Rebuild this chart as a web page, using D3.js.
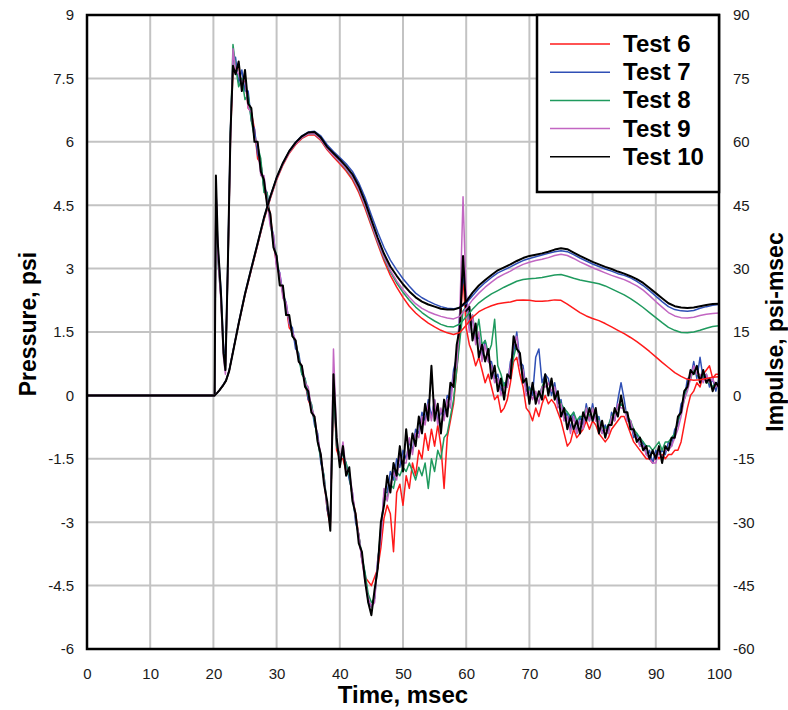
<!DOCTYPE html>
<html>
<head>
<meta charset="utf-8">
<script src="https://cdn.jsdelivr.net/npm/d3@7"></script>
<style>
  html, body { margin: 0; padding: 0; background: #fff; }
</style>
</head>
<body>
<div id="chart"></div>
<script>
// ---- data ----
const testNames = ["Test 6", "Test 7", "Test 8", "Test 9", "Test 10"];
const testColors = ["#ff1a1a", "#2f4fb5", "#1f9a5e", "#c266c2", "#000000"];

const xTicks = [0, 10, 20, 30, 40, 50, 60, 70, 80, 90, 100];
const pressureTicks = [-6, -4.5, -3, -1.5, 0, 1.5, 3, 4.5, 6, 7.5, 9];
const impulseTicks = [-60, -45, -30, -15, 0, 15, 30, 45, 60, 75, 90];

// time (msec) of pressure samples
const pressureTime = [0, 20.2, 20.4, 20.7, 21.2, 21.6, 21.9, 22.3, 22.7, 23.1,
  23.5,24,24.5,25,25.5,26,26.5,27,27.5,28, 28.5,29,29.5,30,30.5,31,31.5,32,32.5,33,
  33.5,34,34.5,35,35.5,36,36.5,37,37.5,38, 38.5,39,39.5,40,40.5,41,41.5,42,42.5,43,
  43.5,44,44.5,45,45.5,46,46.5,47,47.5,48, 48.5,49,49.5,50,50.5,51,51.5,52,52.5,53,
  53.5,54,54.5,55,55.5,56,56.5,57,57.5,58, 58.5,59,59.5,60,60.5,61,61.5,62,62.5,63,
  63.5,64,64.5,65,65.5,66,66.5,67,67.5,68, 68.5,69,69.5,70,70.5,71,71.5,72,72.5,73,
  73.5,74,74.5,75,75.5,76,76.5,77,77.5,78, 78.5,79,79.5,80,80.5,81,81.5,82,82.5,83,
  83.5,84,84.5,85,85.5,86,86.5,87,87.5,88, 88.5,89,89.5,90,90.5,91,91.5,92,92.5,93,
  93.5,94,94.5,95,95.5,96,96.5,97,97.5,98, 98.5,99,99.5,100];

// pressure, psi
const pressureTest6 = [0, 0, 4.8, 3.4, 2.3, 1.1, 0.7, 3.1, 6.1, 7.7,
  7.7,7.8,7.3,7.5,6.8,6.7,6.3,5.6,5.5,4.9, 4.6,4.3,3.6,3.1,2.8,2.4,2.1,1.6,1.5,1.2,
  0.9,0.6,0.3,-0.1,-0.3,-0.6,-1.0,-1.5,-2.0,-2.7, -3.1,0.2,-1.3,-1.5,-1.5,-1.8,-1.9,-2.4,-2.8,-3.3,
  -3.9,-4.3,-4.4,-4.5,-4.3,-4.1,-3.6,-2.9,-2.6,-2.8, -3.7,-2.3,-2.1,-2.6,-1.9,-2.2,-1.6,-1.9,-1.3,-1.5,
  -0.9,-1.3,-0.8,-1.2,-0.7,-1.2,-2.2,-1.0,-0.6,-0.2, 0.6,1.5,2.8,1.6,1.2,1.0,0.7,0.9,0.6,0.3,
  0.5,0.2,-0.1,0.0,-0.4,-0.3,-0.1,0.3,0.8,0.9, 0.5,0.2,-0.3,-0.4,-0.6,-0.3,-0.5,-0.2,0.0,-0.2,
  -0.1,-0.2,-0.4,-0.6,-0.9,-1.2,-1.1,-0.8,-1.0,-0.9, -0.8,-0.6,-0.8,-0.6,-0.7,-0.9,-1.0,-1.1,-1.0,-0.8,
  -0.7,-0.6,-0.5,-0.5,-0.7,-0.9,-1.1,-1.2,-1.3,-1.4, -1.5,-1.5,-1.6,-1.4,-1.5,-1.4,-1.5,-1.4,-1.4,-1.3,
  -1.3,-1.1,-0.7,-0.3,0.0,0.1,0.3,0.2,0.5,0.6, 0.7,0.4,0.5,0.5];
const pressureTest7 = [0, 0, 4.9, 3.5, 2.5, 1.2, 0.7, 3.3, 6.3, 7.9,
  8.0,7.4,7.7,7.2,7.2,6.5,6.3,5.7,5.5,4.9, 4.8,4.1,3.8,3.1,2.9,2.4,2.2,1.7,1.6,1.1,
  1.0,0.5,0.4,-0.1,-0.2,-0.7,-0.9,-1.6,-1.9,-2.7, -3.0,0.3,-1.2,-1.4,-1.4,-1.6,-2.0,-2.3,-3.0,-3.3,
  -3.9,-4.2,-4.9,-5.0,-4.8,-3.9,-3.3,-2.3,-2.3,-1.8, -2.0,-1.5,-1.7,-1.3,-1.5,-1.1,-1.3,-0.8,-0.9,-0.4,
  -0.6,-0.1,-0.5,-0.1,-0.6,-0.4,-0.5,0.0,-0.1,0.6, 0.9,2.0,2.8,2.4,1.7,1.8,1.3,1.4,0.9,1.3,
  0.8,0.8,0.4,0.5,0.1,0.3,0.2,0.8,1.0,1.5, 0.8,0.7,0.1,0.2,0.0,0.9,1.1,0.3,0.5,0.4,
  0.0,0.3,-0.2,-0.1,-0.6,-0.4,-0.8,-0.4,-0.9,-0.5, -0.7,-0.2,-0.6,-0.2,-0.6,-0.5,-0.9,-0.7,-0.9,-0.4,
  -0.6,-0.1,0.3,-0.1,-0.6,-0.6,-1.0,-0.9,-1.2,-1.1, -1.4,-1.3,-1.6,-1.3,-1.4,-1.3,-1.4,-1.1,-1.2,-0.8,
  -0.7,-0.2,-0.1,0.4,0.4,0.8,0.4,0.9,0.4,0.5, 0.2,0.4,0.1,0.4];
const pressureTest8 = [0, 0, 4.7, 3.2, 2.3, 1.0, 0.6, 3.0, 6.2, 8.3,
  7.8,7.3,7.5,7.0,7.1,6.5,6.1,5.9,5.6,4.8, 4.8,4.1,3.6,3.3,2.7,2.5,2.0,1.8,1.4,1.3,
  0.9,0.5,0.4,0.0,-0.2,-0.6,-1.1,-1.5,-1.9,-2.6, -3.0,0.3,-1.2,-1.4,-1.4,-1.6,-1.9,-2.4,-2.9,-3.3,
  -3.8,-4.2,-4.7,-4.9,-4.8,-4.0,-3.1,-2.5,-2.4,-2.1, -2.2,-1.8,-1.9,-1.7,-1.8,-1.6,-1.8,-2.0,-1.7,-1.9,
  -1.6,-2.2,-1.5,-1.8,-1.3,-1.5,-1.0,-0.9,-0.5,-0.1, 0.6,1.3,2.0,2.1,1.6,1.9,1.4,1.8,1.2,1.3,
  1.0,1.2,1.8,0.7,0.5,0.2,0.4,0.5,0.9,1.2, 0.8,0.4,0.3,0.1,0.2,-0.1,0.0,0.2,0.4,0.1,
  0.3,0.0,0.0,-0.2,-0.3,-0.4,-0.5,-0.4,-0.6,-0.5, -0.5,-0.3,-0.5,-0.3,-0.4,-0.6,-0.7,-0.8,-0.7,-0.5,
  -0.4,-0.3,-0.2,-0.3,-0.5,-0.6,-0.8,-0.9,-1.0,-1.1, -1.2,-1.2,-1.3,-1.2,-1.1,-1.3,-1.1,-1.1,-1.0,-0.9,
  -0.6,-0.4,-0.1,0.2,0.4,0.6,0.5,0.4,0.5,0.3, 0.3,0.2,0.3,0.2];
const pressureTest9 = [0, 0, 5.0, 3.3, 2.2, 0.9, 0.5, 3.0, 6.0, 8.2,
  7.7,7.6,7.4,7.5,6.8,6.7,6.1,5.9,5.2,5.2, 4.6,4.0,3.8,3.0,2.9,2.3,2.2,1.7,1.5,1.3,
  0.8,0.7,0.3,0.2,-0.3,-0.5,-1.0,-1.4,-2.0,-2.6, -3.0,1.1,-1.0,-1.6,-1.1,-1.8,-1.8,-2.3,-2.9,-3.3,
  -3.9,-4.4,-4.8,-5.0,-4.9,-3.9,-3.4,-2.2,-2.5,-2.1, -1.8,-2.0,-1.4,-1.6,-1.6,-1.0,-1.4,-0.9,-1.0,-0.5,
  -0.7,-0.2,-0.6,-0.1,-0.7,-0.3,-0.6,-0.1,-0.3,0.5, 0.7,2.0,4.7,2.3,1.5,1.9,1.2,1.5,0.8,1.2,
  0.8,0.7,0.3,0.4,0.0,0.2,0.2,0.7,1.2,1.4, 0.7,0.6,0.0,0.1,-0.1,0.1,-0.2,0.2,0.2,0.3,
  0.1,0.2,-0.3,-0.2,-0.6,-0.5,-0.9,-0.5,-0.9,-0.6, -0.8,-0.3,-0.6,-0.3,-0.6,-0.6,-0.9,-0.8,-0.9,-0.5,
  -0.6,-0.2,-0.3,-0.3,-0.6,-0.6,-0.9,-1.0,-1.2,-1.2, -1.4,-1.5,-1.6,-1.6,-1.3,-1.5,-1.3,-1.3,-1.2,-1.0,
  -0.8,-0.5,-0.1,0.1,0.4,0.7,0.5,0.5,0.3,0.5, 0.3,0.4,0.2,0.3];
const pressureTest10 = [0, 0, 5.2, 3.6, 2.4, 1.0, 0.6, 3.2, 6.2, 7.8,
  7.6,7.9,7.2,7.7,6.9,6.8,6.0,6.0,5.3,5.1, 4.5,4.3,3.5,3.3,2.6,2.6,1.9,1.9,1.4,1.3,
  0.8,0.7,0.2,0.1,-0.4,-0.5,-1.1,-1.4,-2.1,-2.5, -3.2,0.5,-1.0,-1.7,-1.2,-1.9,-1.7,-2.5,-2.8,-3.5,
  -3.7,-4.4,-4.9,-5.2,-4.6,-4.1,-3.0,-2.6,-1.9,-2.3, -1.6,-1.9,-1.2,-1.8,-0.8,-1.5,-0.9,-1.2,-0.5,-0.9,
  -0.2,-0.6,0.7,-0.6,-0.2,-0.9,-0.1,-0.5,0.3,0.2, 1.2,1.6,3.3,2.0,2.1,1.3,1.7,0.9,1.2,0.8,
  1.1,0.4,0.7,0.1,0.4,-0.1,0.5,0.4,1.4,1.1, 1.0,0.3,0.4,-0.2,0.3,-0.2,0.1,-0.1,0.5,0.0,
  0.4,-0.1,0.1,-0.5,-0.3,-0.8,-0.5,-0.8,-0.6,-0.9, -0.4,-0.6,-0.3,-0.6,-0.3,-0.9,-0.6,-1.0,-0.7,-0.7,
  -0.3,-0.5,0.0,-0.4,-0.4,-0.8,-0.8,-1.1,-1.0,-1.3, -1.2,-1.5,-1.3,-1.5,-1.2,-1.6,-1.2,-1.3,-1.0,-1.0,
  -0.5,-0.4,0.1,0.2,0.6,0.5,0.7,0.3,0.6,0.3, 0.4,0.1,0.3,0.2];

// time (msec) of impulse samples
const impulseTime = [0, 20.2, 20.6, 21, 21.5, 22, 22.5, 23,
  24,25,26,27,28,29,30,31,32,33,34,35,36,37,38,39,40,41,42,43,44,45,46,47,48,49,50,
  51,52,53,54,55,56,57,58,59,60,61,62,63,64,65,66,67,68,69,70,71,72,73,74,75,76,77,
  78,79,80,81,82,83,84,85,86,87,88,89,90,91,92,93,94,95,96,97,98,99,100];

// impulse, psi-msec
const impulseTest6 = [0, 0, 0.6, 1.3, 2.3, 3.5, 5.8, 9.6,
  16.9,23.8,29.7,35.6,41.5,46.5,51.0,54.5,57.3,59.3,60.8,61.6,61.6,60.3,58.1,56.4,54.8,
  53.1,51.0,48.0,44.2,40.0,35.8,31.8,28.4,25.6,23.2,21.1,19.5,18.2,17.1,16.2,15.4,14.8,
  14.4,14.9,16.6,18.5,19.8,20.6,21.2,21.7,21.9,22.1,22.5,22.6,22.5,22.3,22.3,22.4,22.6,
  22.5,21.6,20.6,19.6,18.8,18.2,17.7,17.0,16.2,15.4,14.6,13.7,12.7,11.6,10.4,9.1,7.8,
  6.6,5.4,4.5,3.8,3.6,3.7,4.0,4.3,4.4];
const impulseTest7 = [0, 0, 0.6, 1.3, 2.4, 3.6, 6.0, 9.7,
  17.2,24.2,30.2,36.1,42.1,47.1,51.5,55.0,57.8,59.9,61.4,62.3,62.5,61.4,59.3,57.7,56.3,
  54.8,53.0,50.3,46.8,42.6,38.6,35.0,32.0,29.7,27.6,25.8,24.2,23.1,22.3,21.6,21.0,20.6,
  20.5,20.7,21.8,23.6,25.3,26.7,27.9,29.0,29.7,30.4,31.2,31.9,32.4,32.8,33.2,33.6,34.0,
  34.2,34.0,33.3,32.5,31.8,31.1,30.5,29.9,29.4,28.8,28.4,27.8,27.0,26.0,24.8,23.5,22.2,
  21.0,20.3,20.0,19.9,20.1,20.6,21.0,21.3,21.5];
const impulseTest8 = [0, 0, 0.6, 1.3, 2.3, 3.5, 5.8, 9.6,
  17.0,23.9,29.9,35.8,41.8,46.8,51.3,54.8,57.6,59.6,61.0,61.9,61.9,60.6,58.4,56.8,55.2,
  53.5,51.5,48.6,44.8,40.5,36.3,32.4,29.2,26.6,24.4,22.5,20.9,19.6,18.5,17.6,16.8,16.3,
  16.2,16.9,18.6,20.4,21.9,23.0,24.0,24.8,25.6,26.3,27.0,27.4,27.6,27.7,27.9,28.2,28.5,
  28.6,28.2,27.7,27.3,27.0,26.7,26.4,25.9,25.2,24.5,23.8,22.9,21.9,20.8,19.6,18.4,17.2,
  16.1,15.4,14.9,14.8,15.0,15.4,15.9,16.3,16.5];
const impulseTest9 = [0, 0, 0.6, 1.3, 2.3, 3.5, 5.8, 9.6,
  17.0,23.8,29.8,35.7,41.7,46.7,51.2,54.7,57.5,59.5,61.0,61.9,61.9,60.6,58.4,56.8,55.3,
  53.7,51.7,48.8,45.0,40.7,36.5,32.7,29.6,27.1,25.0,23.2,21.7,20.6,19.8,19.2,18.7,18.3,
  18.1,18.7,20.6,22.6,24.2,25.6,26.8,27.9,28.7,29.4,30.3,31.0,31.5,31.9,32.2,32.6,33.1,
  33.4,33.1,32.4,31.6,30.9,30.2,29.6,29.0,28.4,27.9,27.4,26.7,25.9,24.9,23.6,22.2,20.9,
  19.6,18.8,18.4,18.3,18.5,18.9,19.2,19.4,19.5];
const impulseTest10 = [0, 0, 0.6, 1.3, 2.3, 3.5, 5.8, 9.5,
  17.0,24.0,30.0,36.0,42.0,47.0,51.5,55.0,57.8,59.8,61.3,62.2,62.3,61.0,58.8,57.3,55.8,
  54.2,52.3,49.5,45.8,41.5,37.3,33.5,30.5,28.3,26.3,24.6,23.2,22.2,21.5,21.0,20.5,20.3,
  20.3,20.8,22.2,24.3,26.0,27.3,28.5,29.6,30.3,31.0,31.8,32.5,33.0,33.3,33.6,34.0,34.5,
  34.8,34.6,33.8,33.0,32.3,31.6,31.0,30.4,29.9,29.3,28.8,28.2,27.5,26.6,25.4,24.2,23.0,
  21.8,21.1,20.8,20.7,20.8,21.1,21.4,21.6,21.7];

const pressureSeries = [pressureTest6, pressureTest7, pressureTest8, pressureTest9, pressureTest10];
const impulseSeries = [impulseTest6, impulseTest7, impulseTest8, impulseTest9, impulseTest10];

// ---- layout ----
const W = 788, H = 710;
const M = { top: 15, right: 69, bottom: 61, left: 87 };
const FONT = '"Liberation Sans", Arial, sans-serif';
const GRID = "#c3c3c3";

const svg = d3.select("#chart").append("svg")
  .attr("width", W).attr("height", H)
  .style("font-family", FONT);

const x = d3.scaleLinear().domain([0, 100]).range([M.left, W - M.right]);
const yP = d3.scaleLinear().domain([-6, 9]).range([H - M.bottom, M.top]);
const yI = d3.scaleLinear().domain([-60, 90]).range([H - M.bottom, M.top]);

// grid
svg.append("g").selectAll("line").data(xTicks.slice(1, -1)).join("line")
  .attr("x1", d => x(d)).attr("x2", d => x(d))
  .attr("y1", M.top).attr("y2", H - M.bottom)
  .attr("stroke", GRID).attr("stroke-width", 2);
svg.append("g").selectAll("line").data(pressureTicks.slice(1, -1)).join("line")
  .attr("x1", M.left).attr("x2", W - M.right)
  .attr("y1", d => yP(d)).attr("y2", d => yP(d))
  .attr("stroke", GRID).attr("stroke-width", 2);

// axes (labels only; frame drawn separately)
const tickFmt = d => String(d);
const axisStyle = g => {
  g.select(".domain").remove();
  g.selectAll(".tick line").remove();
  g.selectAll("text").attr("fill", "#1a1a1a").style("font-size", "15px").style("font-family", FONT);
};
svg.append("g").attr("transform", `translate(${M.left},0)`)
  .call(d3.axisLeft(yP).tickValues(pressureTicks).tickFormat(tickFmt).tickPadding(7))
  .call(axisStyle);
svg.append("g").attr("transform", `translate(${W - M.right},0)`)
  .call(d3.axisRight(yI).tickValues(impulseTicks).tickFormat(tickFmt).tickPadding(8))
  .call(axisStyle);
svg.append("g").attr("transform", `translate(0,${H - M.bottom})`)
  .call(d3.axisBottom(x).tickValues(xTicks).tickFormat(tickFmt).tickPadding(13))
  .call(axisStyle);

// curves
svg.append("clipPath").attr("id", "plot-clip").append("rect")
  .attr("x", M.left).attr("y", M.top)
  .attr("width", W - M.left - M.right).attr("height", H - M.top - M.bottom);
const plot = svg.append("g").attr("clip-path", "url(#plot-clip)");

const pLine = d3.line().x(d => x(d[0])).y(d => yP(d[1]));
const iLine = d3.line().x(d => x(d[0])).y(d => yI(d[1]));

pressureSeries.forEach((vals, i) => {
  plot.append("path")
    .datum(vals.map((v, k) => [pressureTime[k], v]))
    .attr("d", pLine)
    .attr("fill", "none")
    .attr("stroke", testColors[i])
    .attr("stroke-width", i === 4 ? 2 : 1.5)
    .attr("stroke-linejoin", "round");
});
impulseSeries.forEach((vals, i) => {
  plot.append("path")
    .datum(vals.map((v, k) => [impulseTime[k], v]))
    .attr("d", iLine)
    .attr("fill", "none")
    .attr("stroke", testColors[i])
    .attr("stroke-width", i === 4 ? 2 : 1.5)
    .attr("stroke-linejoin", "round");
});

// frame
svg.append("rect")
  .attr("x", M.left).attr("y", M.top)
  .attr("width", W - M.left - M.right).attr("height", H - M.top - M.bottom)
  .attr("fill", "none").attr("stroke", "#000").attr("stroke-width", 2.5);

// axis titles
svg.append("text")
  .attr("transform", `translate(36,${(M.top + H - M.bottom) / 2 - 8}) rotate(-90)`)
  .attr("text-anchor", "middle")
  .style("font-size", "23px").style("font-weight", "bold")
  .text("Pressure, psi");
svg.append("text")
  .attr("transform", `translate(783,${(M.top + H - M.bottom) / 2}) rotate(-90)`)
  .attr("text-anchor", "middle")
  .style("font-size", "23px").style("font-weight", "bold")
  .text("Impulse, psi-msec");
svg.append("text")
  .attr("x", x(50)).attr("y", 703)
  .attr("text-anchor", "middle")
  .style("font-size", "24px").style("font-weight", "bold")
  .text("Time, msec");

// legend
const lg = svg.append("g");
lg.append("rect")
  .attr("x", 537).attr("y", M.top)
  .attr("width", W - M.right - 537).attr("height", 177)
  .attr("fill", "#fff").attr("stroke", "#000").attr("stroke-width", 2.5);
testNames.forEach((name, i) => {
  const ly = 44 + i * 28.2;
  lg.append("line")
    .attr("x1", 550).attr("x2", 610).attr("y1", ly).attr("y2", ly)
    .attr("stroke", testColors[i]).attr("stroke-width", 1.5);
  lg.append("text")
    .attr("x", 623).attr("y", ly + 8)
    .style("font-size", "24px").style("font-weight", "bold")
    .text(name);
});
</script>
</body>
</html>
